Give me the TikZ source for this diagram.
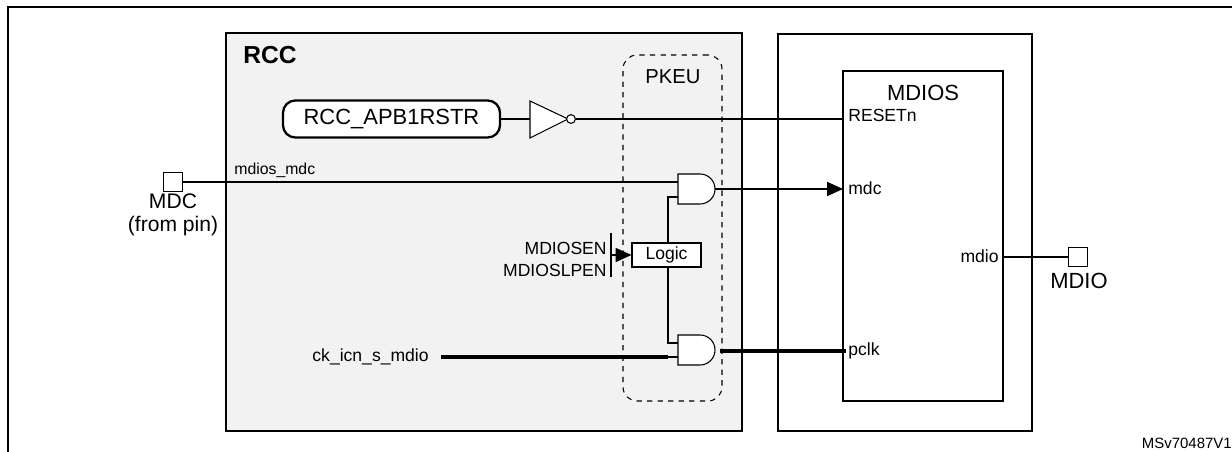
\documentclass[tikz,border=0pt]{standalone}
\usepackage{fontspec}
\setmainfont{Liberation Sans}
\usetikzlibrary{arrows.meta}
\begin{document}
\begin{tikzpicture}[x=0.02cm,y=-0.02cm,
  lbl/.style={inner sep=0pt,font=\fontsize{10}{11}\selectfont},
  sig/.style={line width=0.6pt},
  thk/.style={line width=2.2pt},
  gate/.style={draw,line width=0.6pt,fill=white}]
\useasboundingbox (0,0) rectangle (1232,452);
\draw[line width=1pt] (8,452) -- (8,7) -- (1232,7);
% RCC
\node[draw,line width=1.3pt,fill=gray!10,minimum width=516*0.02cm,minimum height=398*0.02cm,inner sep=0pt] (rcc) at (484,232) {};
\node[anchor=west,inner sep=0pt,font=\fontsize{14}{16}\selectfont\bfseries] (rcct) at (243,55) {RCC};
\node[draw,line width=1.3pt,rounded corners=7pt,fill=white,minimum width=217*0.02cm,minimum height=37*0.02cm,inner sep=0pt,font=\fontsize{12.5}{14}\selectfont] (reg) at (391.5,119) {RCC\_APB1RSTR};
% PKEU
\node[draw,dashed,rounded corners=8pt,minimum width=99*0.02cm,minimum height=346*0.02cm,inner sep=0pt,line width=0.6pt] (pkeu) at (672.5,228) {};
\node[inner sep=0pt,font=\fontsize{11.5}{12}\selectfont] (pkeut) at (673,77) {PKEU};
% right boxes
\node[draw,line width=0.6pt,minimum width=254*0.02cm,minimum height=397*0.02cm,inner sep=0pt] (outer) at (905,232.5) {};
\node[draw,line width=0.6pt,fill=white,minimum width=160*0.02cm,minimum height=330*0.02cm,inner sep=0pt] (mdios) at (923,236) {};
\node[inner sep=0pt,font=\fontsize{12.5}{14}\selectfont] (mdiost) at (923,93) {MDIOS};
% inverter
\coordinate (invin) at (530,119);
\draw[gate] (530,101) -- (568,119) -- (530,138) -- cycle;
\node[draw,circle,inner sep=0pt,minimum size=5pt,line width=0.6pt,fill=white] (bub) at (571,119) {};
\draw[sig] (reg.east) -- (invin);
\coordinate (rst) at (843,119);
\draw[sig] (bub.east) -- (rst);
\node[lbl,anchor=west] (rstl) at (848,115) {RESETn};
% AND gates
\draw[gate] (678,174) -- (700,174) arc (90:-90:15 and -15) -- (678,204) -- cycle;
\coordinate (a1o) at (715,189);
\draw[gate] (678,335) -- (700,335) arc (90:-90:15 and -15) -- (678,365) -- cycle;
\coordinate (a2o) at (715,350);
% MDC pin
\node[draw,line width=0.8pt,fill=white,minimum size=19*0.02cm,inner sep=0pt] (mdcpin) at (173,182) {};
\coordinate (a1i) at (678,182);
\draw[sig] (mdcpin.east) -- (a1i);
\node[lbl,anchor=south west,font=\fontsize{9}{10}\selectfont] (mdcl) at (234,178) {mdios\_mdc};
\node[inner sep=0pt,align=center,font=\fontsize{12}{13.5}\selectfont,anchor=north] (mdct) at (173,193) {MDC\\(from pin)};
% mdc output
\coordinate (mdc) at (843,189);
\draw[sig,-{Triangle[length=9pt,width=8pt]}] (a1o) -- (mdc);
\node[lbl,anchor=west] (mdcin) at (848,188) {mdc};
% Logic
\node[draw,line width=0.6pt,fill=white,minimum width=69*0.02cm,minimum height=24*0.02cm,inner sep=0pt,font=\fontsize{10}{11}\selectfont] (logic) at (666.5,255) {Logic};
\draw[sig] (678,197) -| (668,243);
\draw[sig] (678,343) -| (668,267);
\coordinate (bar) at (611,255);
\draw[sig] (611,233) -- (611,277);
\draw[sig,-{Triangle[length=9pt,width=8pt]}] (bar) -- (logic.west);
\node[lbl,anchor=east] (en) at (607,248) {MDIOSEN};
\node[lbl,anchor=east] (slp) at (607,270) {MDIOSLPEN};
% clock
\node[lbl,anchor=east] (ck) at (429,357) {ck\_icn\_s\_mdio};
\coordinate (ckend) at (668,357);
\draw[thk] (441,357) -- (ckend);
\draw[sig] (ckend) -- (678,357);
\coordinate (pclk) at (846,351);
\draw[thk] (720,351) -- (pclk);
\node[lbl,anchor=west] (pclkl) at (848,351) {pclk};
% mdio
\coordinate (mdiop) at (1003,257);
\node[draw,line width=0.8pt,fill=white,minimum size=19*0.02cm,inner sep=0pt] (mdiopin) at (1078,257) {};
\draw[sig] (mdiop) -- (mdiopin.west);
\node[lbl,anchor=east] (mdiol) at (999,256) {mdio};
\node[inner sep=0pt,font=\fontsize{12.5}{14}\selectfont] (mdiot) at (1079,281) {MDIO};
\node[inner sep=0pt,anchor=east,font=\fontsize{8.5}{9}\selectfont] (ref) at (1232,443) {MSv70487V1};
\end{tikzpicture}
\end{document}
